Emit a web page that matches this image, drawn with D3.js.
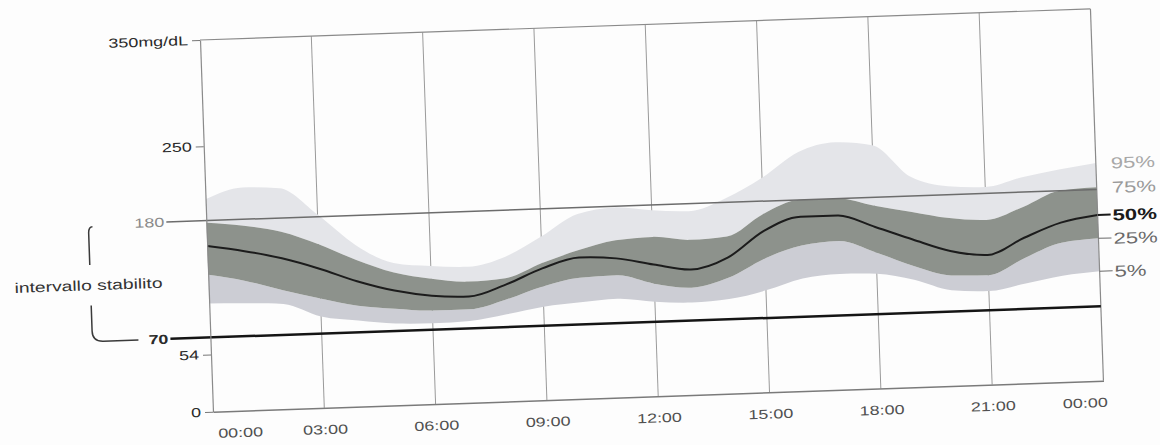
<!DOCTYPE html>
<html>
<head>
<meta charset="utf-8">
<script src="https://cdn.jsdelivr.net/npm/d3@7"></script>
<style>
  body { margin: 0; background: #fff; }
  svg { display: block; }
  text { font-family: "Liberation Sans", Arial, sans-serif; }
</style>
</head>
<body>
<div id="chart"></div>
<script>
const width = 1160
const height = 445
const plotW = 891
const plotH = 372
const stretch = 1.38   // the scan is wider than it is tall, text too

// hours of the day, 0..24
const hours = [0, 1, 2, 3, 4, 5, 6, 7, 8, 9, 10, 11, 12, 13, 14, 15, 16, 17, 18, 19, 20, 21, 22, 23, 24]
// glucose percentiles, mg/dL
const p95 = [200, 210, 208, 182, 152, 134, 130, 128, 136, 154, 174, 179, 175, 173, 184, 202, 225, 233, 229, 198, 188, 186, 194, 200, 205]
const p75 = [178, 174, 167, 154, 138, 125, 118, 114, 116, 129, 140, 148, 150, 146, 148, 168, 180, 180, 172, 165, 158, 155, 166, 180, 182]
const p50 = [156, 150, 142, 131, 118, 108, 102, 100, 110, 124, 133, 131, 124, 118, 128, 152, 164, 164, 152, 139, 127, 122, 137, 150, 156]
const p25 = [129, 122, 112, 103, 95, 91, 88, 88, 96, 107, 114, 115, 106, 101, 109, 126, 137, 140, 128, 114, 104, 103, 118, 131, 134]
const p5 = [102, 101, 99, 86, 81, 77, 76, 77, 82, 88, 91, 93, 89, 87, 89, 96, 106, 109, 108, 101, 90, 88, 94, 100, 103]

const xTicks = [0, 3, 6, 9, 12, 15, 18, 21, 24]
const xLabels = ["00:00", "03:00", "06:00", "09:00", "12:00", "15:00", "18:00", "21:00", "00:00"]
const yTicks = [0, 54, 70, 180, 250, 350]
const targetRange = [70, 180]
const pctLabels = ["95%", "75%", "50%", "25%", "5%"]

const rows = hours.map((h, i) => ({h: h, p5: p5[i], p25: p25[i], p50: p50[i], p75: p75[i], p95: p95[i]}))

const svg = d3.select("div#chart").append("svg").attr("width", width).attr("height", height)
svg.append("rect").attr("width", width).attr("height", height).attr("fill", "#fdfdfd")

// whole sheet is slightly tilted in the scan
const g = svg.append("g").attr("transform", "translate(200, 40) rotate(-2)")

const x = d3.scaleLinear().domain([0, 24]).range([0, plotW])
const y = d3.scaleLinear().domain([0, 350]).range([plotH, 0])

// vertical grid
g.append("g").selectAll("line").data(xTicks.slice(1, -1)).enter()
    .append("line")
    .attr("x1", d => x(d)).attr("x2", d => x(d))
    .attr("y1", y(350)).attr("y2", y(0))
    .attr("stroke", "#9a9a9a").attr("stroke-width", 1)

// bands
const area = (lo, hi) => d3.area().x(d => x(d.h)).y0(d => y(d[lo])).y1(d => y(d[hi])).curve(d3.curveMonotoneX)
g.append("path").datum(rows).attr("d", area("p75", "p95")).attr("fill", "#e4e5e9")
g.append("path").datum(rows).attr("d", area("p5", "p25")).attr("fill", "#cccdd4")
g.append("path").datum(rows).attr("d", area("p25", "p75")).attr("fill", "#8d928c")

const line = d3.line().x(d => x(d.h)).y(d => y(d.p50)).curve(d3.curveMonotoneX)
g.append("path").datum(rows).attr("d", line).attr("fill", "none").attr("stroke", "#1c1c1c").attr("stroke-width", 2)

// frame
g.append("line").attr("x1", 0).attr("x2", plotW).attr("y1", y(350)).attr("y2", y(350)).attr("stroke", "#8a8a8a").attr("stroke-width", 1.2)
g.append("line").attr("x1", plotW).attr("x2", plotW).attr("y1", y(350)).attr("y2", y(0)).attr("stroke", "#8a8a8a").attr("stroke-width", 1.2)

// target range lines
g.append("line").attr("x1", -40).attr("x2", plotW).attr("y1", y(targetRange[1])).attr("y2", y(targetRange[1]))
    .attr("stroke", "#6c6c6c").attr("stroke-width", 1.5)
g.append("line").attr("x1", -40).attr("x2", plotW).attr("y1", y(targetRange[0])).attr("y2", y(targetRange[0]))
    .attr("stroke", "#151515").attr("stroke-width", 2.5)

// y axis
const yAxis = d3.axisLeft(y).tickValues(yTicks).tickSize(8).tickSizeOuter(0)
    .tickFormat(d => d === 350 ? "350mg/dL" : d)
const yAxisGroup = g.append("g").call(yAxis)
yAxisGroup.select(".domain").attr("stroke", "#8a8a8a").attr("stroke-width", 1.2)
yAxisGroup.selectAll(".tick line").attr("stroke", "#777")
    .attr("display", d => targetRange.includes(d) ? "none" : null)
yAxisGroup.selectAll(".tick text")
    .attr("font-size", 13)
    .attr("fill", d => d === 180 ? "#8a8a8a" : "#2a2a2a")
    .attr("font-weight", d => d === 70 ? "bold" : null)
    .attr("x", d => (targetRange.includes(d) ? -42 : -12) / stretch)
    .attr("transform", `scale(${stretch},1)`)

// x axis
const xAxis = d3.axisBottom(x).tickValues(xTicks).tickSize(0).tickPadding(17)
    .tickFormat((d, i) => xLabels[i])
const xAxisGroup = g.append("g").attr("transform", `translate(0, ${plotH})`).call(xAxis)
xAxisGroup.select(".domain").attr("stroke", "#7a7a7a").attr("stroke-width", 1.5)
xAxisGroup.selectAll(".tick text")
    .attr("font-size", 13).attr("fill", "#505050")
    .attr("text-anchor", (d, i) => i === 0 ? "start" : (i === xTicks.length - 1 ? "end" : "middle"))
    .attr("x", (d, i) => (i === 0 ? 4 : (i === xTicks.length - 1 ? 3 : 0)) / stretch)
    .attr("transform", `scale(${stretch},1)`)

// percentile labels on the right
const last = rows[rows.length - 1]
const pctKeys = ["p95", "p75", "p50", "p25", "p5"]
const pctColor = ["#a8a8a8", "#9a9a9a", "#1a1a1a", "#6a6a6a", "#6a6a6a"]
pctKeys.forEach((k, i) => {
    const yy = y(last[k])
    if (i >= 2) {
        g.append("line").attr("x1", plotW).attr("x2", plotW + 13).attr("y1", yy).attr("y2", yy)
            .attr("stroke", pctColor[i]).attr("stroke-width", i === 2 ? 2 : 1)
    }
    g.append("text")
        .attr("transform", `translate(${plotW + 15}, ${yy + 6}) scale(${stretch},1)`)
        .attr("font-size", 16).attr("fill", pctColor[i])
        .attr("font-weight", i === 2 ? "bold" : null)
        .text(pctLabels[i])
})

// bracket for target range
const bx = -118
const bracket = d3.path()
bracket.moveTo(bx + 4, y(178))
bracket.quadraticCurveTo(bx, y(178), bx, y(172))
bracket.lineTo(bx, y(142))
bracket.moveTo(bx, y(104))
bracket.lineTo(bx, y(80))
bracket.quadraticCurveTo(bx, y(70), bx + 11, y(70))
bracket.lineTo(-72, y(70))
g.append("path").attr("d", bracket.toString()).attr("fill", "none").attr("stroke", "#3a3a3a").attr("stroke-width", 1.5)

g.append("text")
    .attr("transform", `translate(${bx - 2}, ${y(123) + 5}) scale(${stretch},1)`)
    .attr("text-anchor", "middle").attr("font-size", 14).attr("fill", "#333")
    .text("intervallo stabilito")
</script>
</body>
</html>
